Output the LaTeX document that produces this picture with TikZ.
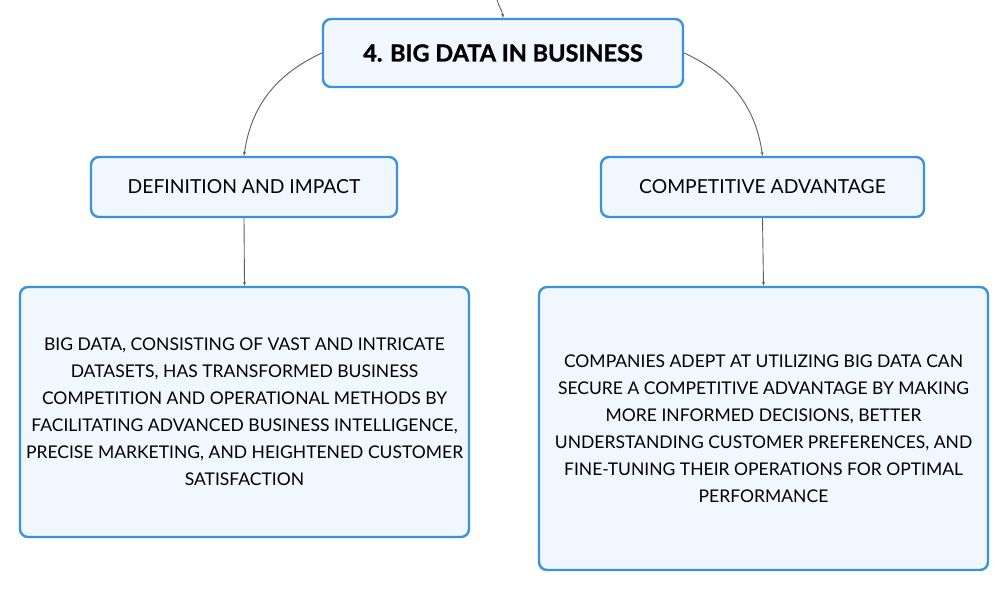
\documentclass[tikz,border=0pt]{standalone}
\usepackage{fontspec}
\setmainfont{Lato}
\newfontfamily\titlefont{Lato}[UprightFont=*-Bold, FakeBold=1.2]
\usetikzlibrary{arrows.meta}
\definecolor{boxblue}{HTML}{3A92DE}
\definecolor{boxfill}{HTML}{F0F7FE}
\definecolor{linkgray}{HTML}{5E5E5E}
\begin{document}
\begin{tikzpicture}[x=1pt, y=-1pt,
        topicbox/.style={draw=boxblue, fill=boxfill, line width=2.4pt, rounded corners=8pt, align=center, inner sep=0pt},
        link/.style={draw=linkgray, line width=0.9pt, -{Stealth[length=4pt, width=3pt]}}]
            %\draw[lightgray] (0, 0) grid[step=50] (1008, 591);
            \useasboundingbox (0, 0) rectangle (1008, 591);
            \node[topicbox, minimum width=360, minimum height=68, font=\titlefont\fontsize{23.5}{28}\selectfont] (main) at (503, 53) {4. BIG DATA IN BUSINESS};
            \node[topicbox, minimum width=306, minimum height=60, font=\fontsize{19.3}{22}\selectfont] (defn) at (244, 187) {DEFINITION AND IMPACT};
            \node[topicbox, minimum width=323, minimum height=60, font=\fontsize{19.3}{22}\selectfont] (comp) at (762.5, 187) {COMPETITIVE ADVANTAGE};
            \node[topicbox, minimum width=449, minimum height=250, font=\fontsize{17.5}{27}\selectfont] (defntext) at (244.5, 412) {BIG DATA, CONSISTING OF VAST AND INTRICATE\\DATASETS, HAS TRANSFORMED BUSINESS\\COMPETITION AND OPERATIONAL METHODS BY\\FACILITATING ADVANCED BUSINESS INTELLIGENCE,\\PRECISE MARKETING, AND HEIGHTENED CUSTOMER\\SATISFACTION};
            \node[topicbox, minimum width=449, minimum height=283, font=\fontsize{17.5}{27}\selectfont] (comptext) at (763.5, 428.5) {COMPANIES ADEPT AT UTILIZING BIG DATA CAN\\SECURE A COMPETITIVE ADVANTAGE BY MAKING\\MORE INFORMED DECISIONS, BETTER\\UNDERSTANDING CUSTOMER PREFERENCES, AND\\FINE-TUNING THEIR OPERATIONS FOR OPTIMAL\\PERFORMANCE};
            \coordinate (parent) at (497, -1);
            \draw[link] (parent) to[out=-80, in=95] (main.north);
            \draw[link] (main.west) to[out=205, in=82] (defn.north);
            \draw[link] (main.east) to[out=-25, in=98] (comp.north);
            \draw[link] (defn.south) -- (defntext.north);
            \draw[link] (comp.south) -- (comptext.north);
        \end{tikzpicture}
\end{document}
